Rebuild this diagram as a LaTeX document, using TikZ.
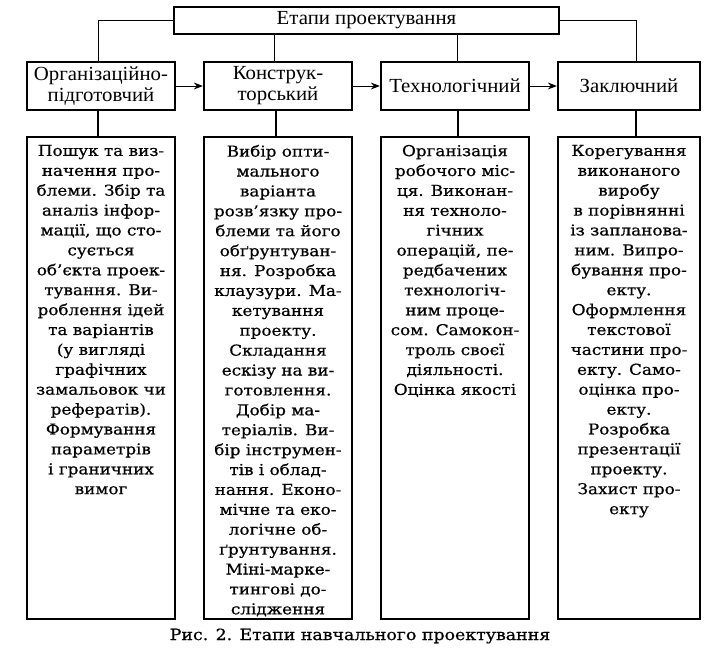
\documentclass[tikz,border=0pt]{standalone}
\usepackage{fontspec}
\setmainfont{DejaVu Serif}[FakeStretch=1.12,FakeBold=0.6]
\newfontfamily\hdrfont{Liberation Serif}[FakeStretch=1.04]
\usetikzlibrary{arrows.meta}
\begin{document}
\begin{tikzpicture}[x=1pt,y=-1pt,
  hdrbox/.style={draw,line width=2.3pt,minimum height=48pt,inner sep=0pt,
     align=center,font=\hdrfont\fontsize{20}{21}\selectfont},
  topbox/.style={draw,line width=2.3pt,minimum width=385pt,minimum height=27pt,inner sep=0pt,
     font=\hdrfont\fontsize{20}{21}\selectfont},
  lowbox/.style={draw,line width=2.5pt,minimum height=482pt,inner sep=0pt},
  bodytext/.style={anchor=north,inner sep=0pt,align=center,
     font=\fontsize{15}{19.9}\selectfont},
  thin/.style={line width=0.9pt},
  stem/.style={line width=1.8pt},
  flow/.style={line width=0.9pt,-{Stealth[length=9pt,width=7pt]}}
]
\useasboundingbox (0,0) rectangle (713,653);

\node[topbox] (top) at (366.5,20.5) {Етапи проектування};

\node[hdrbox,minimum width=148pt] (h1) at (101,86) {Організаційно-\\підготовчий};
\node[hdrbox,minimum width=148pt] (h2) at (278,86) {Конструк-\\торський};
\node[hdrbox,minimum width=148pt] (h3) at (455,86) {Технологічний};
\node[hdrbox,minimum width=142pt] (h4) at (629,86) {Заключний};

\node[lowbox,minimum width=148pt] (l1) at (101,378) {};
\node[lowbox,minimum width=148pt] (l2) at (278,378) {};
\node[lowbox,minimum width=148pt] (l3) at (455,378) {};
\node[lowbox,minimum width=142pt] (l4) at (629,378) {};

\node[bodytext] (t1) at ([yshift=-9pt]l1.north) {Пошук та виз-\\
начення про-\\
блеми. Збір та\\
аналіз інфор-\\
мації, що сто-\\
сується\\
об’єкта проек-\\
тування. Ви-\\
роблення ідей\\
та варіантів\\
(у вигляді\\
графічних\\
замальовок чи\\
рефератів).\\
Формування\\
параметрів\\
і граничних\\
вимог};

\node[bodytext] (t2) at ([yshift=-9pt]l2.north) {Вибір опти-\\
мального\\
варіанта\\
розв’язку про-\\
блеми та його\\
обґрунтуван-\\
ня. Розробка\\
клаузури. Ма-\\
кетування\\
проекту.\\
Складання\\
ескізу на ви-\\
готовлення.\\
Добір ма-\\
теріалів. Ви-\\
бір інструмен-\\
тів і облад-\\
нання. Еконо-\\
мічне та еко-\\
логічне об-\\
ґрунтування.\\
Міні-марке-\\
тингові до-\\
слідження};

\node[bodytext] (t3) at ([yshift=-9pt]l3.north) {Організація\\
робочого міс-\\
ця. Виконан-\\
ня техноло-\\
гічних\\
операцій, пе-\\
редбачених\\
технологіч-\\
ним проце-\\
сом. Самокон-\\
троль своєї\\
діяльності.\\
Оцінка якості};

\node[bodytext] (t4) at ([yshift=-9pt]l4.north) {Корегування\\
виконаного\\
виробу\\
в порівнянні\\
із запланова-\\
ним. Випро-\\
бування про-\\
екту.\\
Оформлення\\
текстової\\
частини про-\\
екту. Само-\\
оцінка про-\\
екту.\\
Розробка\\
презентації\\
проекту.\\
Захист про-\\
екту};

\node[font=\fontsize{15.5}{18}\selectfont,inner sep=0pt] (cap) at (360,636) {Рис. 2. Етапи навчального проектування};

% tree from the title box
\draw[thin] (top.west) -| ([xshift=-3pt]h1.north);
\draw[thin] ([xshift=-92.5pt]top.south) -- ([xshift=-92.5pt]top.south |- h2.north);
\draw[thin] ([xshift=90.5pt]top.south) -- ([xshift=90.5pt]top.south |- h3.north);
\draw[thin] (top.east) -| ([xshift=7pt]h4.north);

% flow arrows
\draw[flow] (h1.east) -- (h2.west);
\draw[flow] (h2.east) -- (h3.west);
\draw[flow] (h3.east) -- (h4.west);

% stems to the lower boxes
\draw[stem] ([xshift=-3pt]h1.south) -- ([xshift=-3pt]l1.north);
\draw[stem] ([xshift=-2pt]h2.south) -- ([xshift=-2pt]l2.north);
\draw[stem] ([xshift=3pt]h3.south) -- ([xshift=3pt]l3.north);
\draw[stem] ([xshift=7pt]h4.south) -- ([xshift=7pt]l4.north);
\end{tikzpicture}
\end{document}
